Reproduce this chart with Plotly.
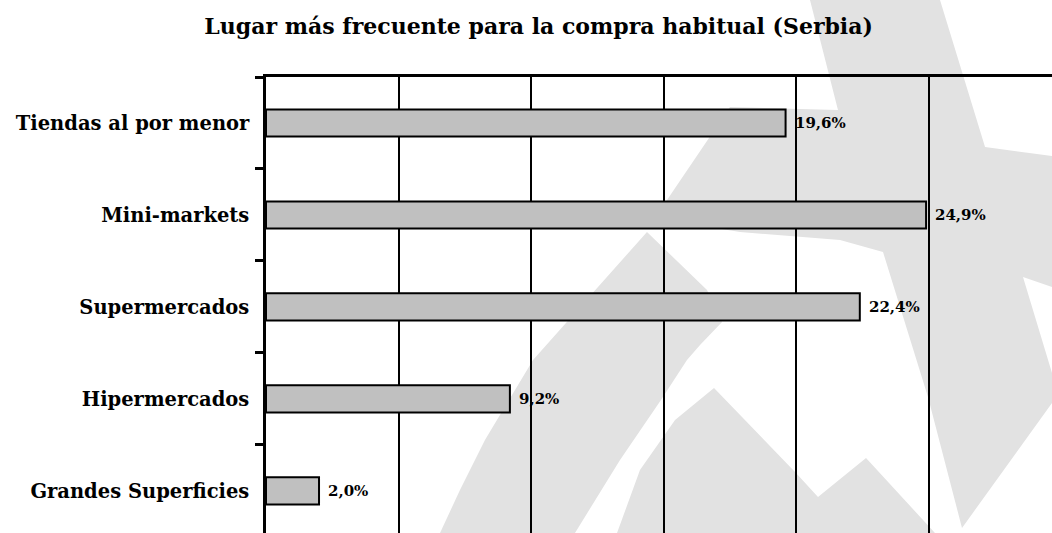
import plotly.graph_objects as go

# ---- data ----
categories = ["Tiendas al por menor", "Mini-markets", "Supermercados",
              "Hipermercados", "Grandes Superficies"]
values = [19.6, 24.9, 22.4, 9.2, 2.0]
value_labels = ["19,6%", "24,9%", "22,4%", "9,2%", "2,0%"]
x_gridlines = [0, 5, 10, 15, 20, 25]
title_text = "Lugar más frecuente para la compra habitual (Serbia)"

# ---- layout constants ----
W, H = 1052, 533
L, R, T, B = 266, 0, 77, 0
FONT = "DejaVu Serif"

def px_to_paper(pts):
    return [((x - L) / (W - L - R), (H - B - y) / (H - T - B)) for x, y in pts]

def path_of(pts):
    p = px_to_paper(pts)
    return "M " + " L ".join(f"{a:.4f},{b:.4f}" for a, b in p) + " Z"

# decorative background watermark (approximate outline, pixel space)
wm_star = [(810, 0), (940, 0), (985, 147), (1052, 156), (1052, 287), (1023, 277),
           (1052, 373), (1052, 403), (962, 528), (928, 397), (883, 252), (840, 240),
           (740, 232), (655, 218), (667, 200), (730, 107), (838, 110)]
wm_arc = [(647, 232), (707, 290), (722, 322), (700, 345), (687, 360), (661, 400),
          (620, 460), (575, 533), (440, 533), (460, 490), (485, 440), (533, 360)]
wm_mount = [(617, 533), (640, 470), (675, 420), (714, 388), (796, 473),
            (818, 497), (866, 458), (935, 533)]

shapes = [dict(type="path", xref="paper", yref="paper", path=path_of(p),
               fillcolor="#e2e2e2", line=dict(width=0), layer="below")
          for p in (wm_star, wm_arc, wm_mount)]

fig = go.Figure(go.Bar(
    y=categories, x=values, orientation="h",
    width=0.295,
    marker=dict(color="#c0c0c0", line=dict(color="black", width=2)),
    hoverinfo="skip",
))

annotations = [dict(x=v, y=c, xref="x", yref="y", text=t, showarrow=False,
                    xanchor="left", yanchor="middle", xshift=7,
                    font=dict(family=FONT, size=15, color="black", weight="bold"))
               for c, v, t in zip(categories, values, value_labels)]

fig.update_layout(
    width=W, height=H,
    margin=dict(l=L, r=R, t=T, b=B, pad=0),
    paper_bgcolor="white", plot_bgcolor="rgba(0,0,0,0)",
    showlegend=False,
    title=dict(text=title_text, x=0.512, xanchor="center", y=0.95, yanchor="middle",
               font=dict(family=FONT, size=22, color="black", weight="bold")),
    shapes=shapes,
    annotations=annotations,
)
fig.update_xaxes(
    range=[0, 29.65], tickvals=x_gridlines, showticklabels=False, ticks="",
    showgrid=True, gridcolor="black", gridwidth=2, zeroline=False,
    side="top", showline=True, linecolor="black", linewidth=2.5,
)
fig.update_yaxes(
    categoryorder="array", categoryarray=categories,
    range=[4.458, -0.5], showline=True, linecolor="black", linewidth=2.5,
    ticks="outside", ticklen=8, tickwidth=2.5, tickcolor="black", tickson="boundaries",
    showgrid=False, zeroline=False, ticklabelstandoff=10,
    tickfont=dict(family=FONT, size=19.5, color="black", weight="bold"),
)

fig.write_html("out.html", config={"displayModeBar": False},
               post_script="document.body.style.margin='0';")
